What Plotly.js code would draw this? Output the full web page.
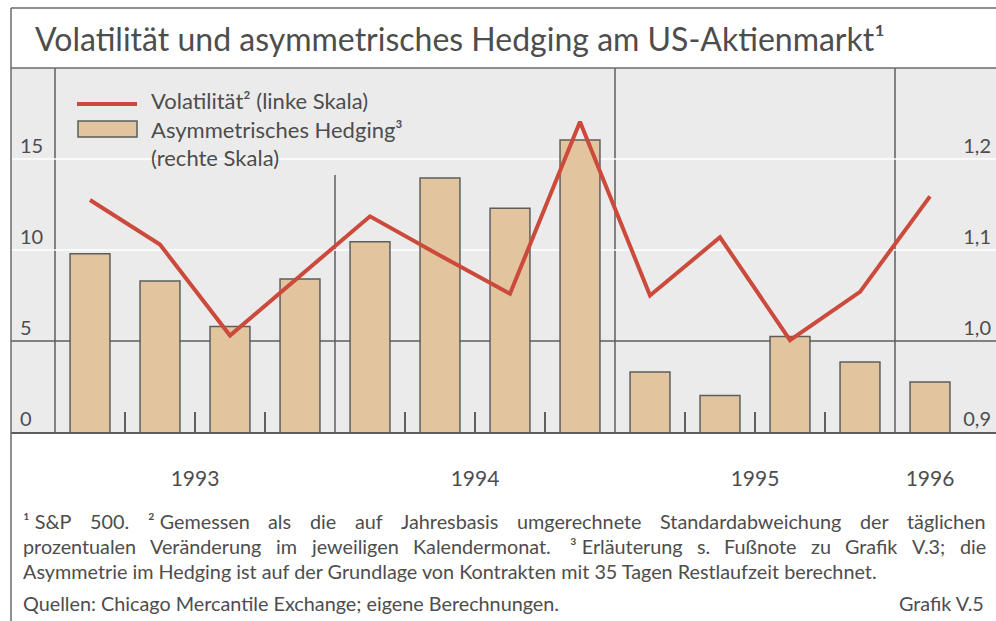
<!DOCTYPE html>
<html><head><meta charset="utf-8">
<script src="https://cdn.plot.ly/plotly-3.0.1.min.js"></script>
<style>html,body{margin:0;padding:0;background:#fff;} #chart{width:996px;height:621px;}</style>
</head><body><div id="chart"></div>
<script>
// ---- data ----
const quarters = ['1993 Q1','1993 Q2','1993 Q3','1993 Q4','1994 Q1','1994 Q2','1994 Q3','1994 Q4','1995 Q1','1995 Q2','1995 Q3','1995 Q4','1996 Q1'];
const volatility = [12.75, 10.3, 5.3, 8.6, 11.85, 9.7, 7.6, 17.05, 7.5, 10.7, 5.05, 7.7, 12.95];
const hedging = [1.096, 1.066, 1.016, 1.068, 1.109, 1.179, 1.146, 1.221, 0.966, 0.940, 1.005, 0.977, 0.955];
const years = ['1993','1994','1995','1996'];
const quartersPerYear = [4,4,4,1];
const leftTicks = [0,5,10,15];
const rightTicks = [0.9,1.0,1.1,1.2];
const titleText = 'Volatilität und asymmetrisches Hedging am US-Aktienmarkt¹';
const legendLine = 'Volatilität² (linke Skala)';
const legendBar1 = 'Asymmetrisches Hedging³';
const legendBar2 = '(rechte Skala)';
const footJustified = [
  '¹\u00a0S&P 500. ²\u00a0Gemessen als die auf Jahresbasis umgerechnete Standardabweichung der täglichen',
  'prozentualen Veränderung im jeweiligen Kalendermonat. \u00a0³\u00a0Erläuterung s. Fußnote zu Grafik V.3; die'
];
const footLast = 'Asymmetrie im Hedging ist auf der Grundlage von Kontrakten mit 35 Tagen Restlaufzeit berechnet.';
const sourceText = 'Quellen: Chicago Mercantile Exchange; eigene Berechnungen.';
const chartId = 'Grafik V.5';

// ---- geometry / style ----
const W = 996, H = 621, L = 11, R = 0, T = 68, B = 189;
const plotW = W - L - R, plotH = H - T - B;
const qPx = 70, q0Px = 55;
const xRange = [(L - q0Px) / qPx, (W - R - q0Px) / qPx];
const px = p => (p - L) / plotW;
const py = p => (H - B - p) / plotH;
const FONT = 'Lato';
const TXT = '#4d4d4d';
const GRAY = '#5e5e5e';
const RED = '#cc4a3b';
const TAN = '#e2c49e';
const BG = '#ebebeb';

const xq = quarters.map((q, i) => i + 0.5);
const yearStarts = [];
let acc = 0;
quartersPerYear.forEach(n => { yearStarts.push(acc); acc += n; });
const yearCenters = yearStarts.map((s, i) => s + quartersPerYear[i] / 2);
const minorVals = [];
yearStarts.forEach((s, i) => { for (let k = 1; k < quartersPerYear[i]; k++) minorVals.push(s + k); });

const traces = [
  {type: 'bar', x: xq, y: hedging, yaxis: 'y', width: 0.57, name: 'Asymmetrisches Hedging',
   marker: {color: TAN, line: {color: GRAY, width: 1.5}}, hoverinfo: 'skip'},
  {type: 'scatter', mode: 'lines', x: xq, y: volatility, yaxis: 'y2', name: 'Volatilität',
   line: {color: RED, width: 4}, hoverinfo: 'skip'}
];

const legendRightPx = 345, legendBottomPx = 175;
const shapes = [];
// white grid lines
rightTicks.forEach(v => {
  if (v > 0.9 && v !== 1.0) shapes.push({type: 'line', xref: 'x', yref: 'y', x0: xRange[0], x1: xRange[1], y0: v, y1: v, layer: 'below', line: {color: '#ffffff', width: 1.5}});
});
// reference line at 1,0 / 5
shapes.push({type: 'line', xref: 'x', yref: 'y', x0: xRange[0], x1: xRange[1], y0: 1.0, y1: 1.0, layer: 'below', line: {color: GRAY, width: 1.5}});
// year separators
yearStarts.forEach(s => {
  const pix = q0Px + s * qPx;
  const top = (pix > q0Px + 2 && pix < legendRightPx) ? py(legendBottomPx) : 1;
  shapes.push({type: 'line', xref: 'x', yref: 'paper', x0: s, x1: s, y0: 0, y1: top, layer: 'below', line: {color: GRAY, width: 1.5}});
});
// frame
shapes.push({type: 'line', xref: 'paper', yref: 'paper', x0: 0, x1: 0, y0: py(8), y1: py(621), line: {color: '#6b6b6b', width: 1.5}});
shapes.push({type: 'line', xref: 'paper', yref: 'paper', x0: 0, x1: 1, y0: py(8), y1: py(8), line: {color: '#6b6b6b', width: 1.5}});
shapes.push({type: 'line', xref: 'paper', yref: 'paper', x0: 0, x1: 1, y0: 1, y1: 1, line: {color: '#6b6b6b', width: 1.5}});
// legend swatches
shapes.push({type: 'line', xref: 'paper', yref: 'paper', x0: px(77), x1: px(137), y0: py(104), y1: py(104), line: {color: RED, width: 4}});
shapes.push({type: 'rect', xref: 'paper', yref: 'paper', x0: px(78), x1: px(137), y0: py(121), y1: py(137), fillcolor: TAN, line: {color: GRAY, width: 1.5}});

const annotations = [];
function txt(t, xPix, yPix, size, anchor) {
  annotations.push({text: t, xref: 'paper', yref: 'paper', x: px(xPix), y: py(yPix), xanchor: anchor || 'left', yanchor: 'middle',
    showarrow: false, borderpad: 0, font: {family: FONT, size: size, color: TXT}});
}
txt(legendLine, 150, 100, 22);
txt(legendBar1, 150, 129, 22);
txt(legendBar2, 150, 157, 22);

// footnotes (justified lines measured with canvas)
const FS = 19.8;
const ctx = document.createElement('canvas').getContext('2d');
ctx.font = FS + 'px ' + FONT;
const leftPx = 22, rightPx = 985;
const footY = [521, 546, 571];
footJustified.forEach((line, li) => {
  const toks = line.split(' ');
  const ws = toks.map(t => ctx.measureText(t).width);
  const sum = ws.reduce((a, b) => a + b, 0);
  const gap = (rightPx - leftPx - sum) / (toks.length - 1);
  let xPos = leftPx;
  toks.forEach((t, i) => { txt(t, xPos, footY[li], FS); xPos += ws[i] + gap; });
});
txt(footLast, leftPx, footY[2], FS);
txt(sourceText, leftPx, 603, FS);
txt(chartId, rightPx, 603, FS, 'right');

const tickFont = {family: FONT, size: 20, color: TXT};
const layout = {
  width: W, height: H,
  margin: {l: L, r: R, t: T, b: B, pad: 0},
  paper_bgcolor: '#ffffff', plot_bgcolor: BG,
  separators: ',.',
  showlegend: false,
  hovermode: false,
  bargap: 0,
  title: {text: titleText, font: {family: FONT, size: 32, color: TXT}, x: 35 / W, xref: 'container', xanchor: 'left',
          y: 1 - 40 / H, yref: 'container', yanchor: 'middle'},
  xaxis: {range: xRange, tickmode: 'array', tickvals: yearCenters, ticktext: years, ticks: '', showgrid: false,
          zeroline: false, showline: true, linecolor: GRAY, linewidth: 1.5, tickfont: {family: FONT, size: 21, color: TXT}, ticklabelstandoff: 27,
          minor: {tickmode: 'array', tickvals: minorVals, ticks: 'inside', ticklen: 20, tickcolor: GRAY, tickwidth: 1.5, showgrid: false}},
  yaxis: {range: [0.9, 1.3], side: 'right', tickmode: 'array', tickvals: rightTicks, tickformat: '.1f',
          ticklabelposition: 'inside', ticks: '', showgrid: false, zeroline: false,
          showline: false, tickfont: tickFont, ticklabelshift: -13, ticklabelstandoff: 2},
  yaxis2: {range: [0, 20], overlaying: 'y', side: 'left', tickmode: 'array', tickvals: leftTicks,
           ticklabelposition: 'inside', ticks: '', showgrid: false, zeroline: false, showline: false,
           tickfont: tickFont, ticklabelshift: -13, ticklabelstandoff: 6},
  shapes: shapes,
  annotations: annotations
};
Plotly.newPlot('chart', traces, layout, {displayModeBar: false, staticPlot: true});
</script></body></html>
